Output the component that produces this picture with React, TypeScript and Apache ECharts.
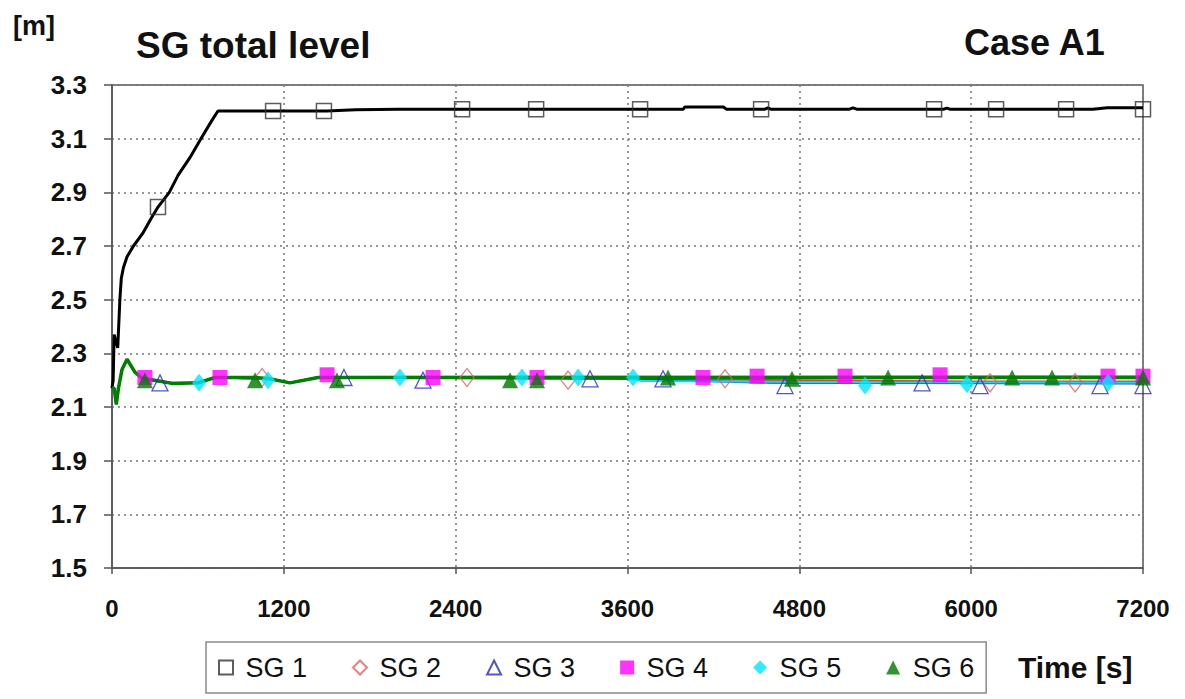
import React, { useEffect, useRef } from "react";
import * as echarts from "echarts";

// ---- data (time [s], level [m]) ----
const xTicks = [0, 1200, 2400, 3600, 4800, 6000, 7200];
const yTicks = [1.5, 1.7, 1.9, 2.1, 2.3, 2.5, 2.7, 2.9, 3.1, 3.3];

const seriesNames = ["SG 1", "SG 2", "SG 3", "SG 4", "SG 5", "SG 6"];

// line traces
const sg1Line: number[][] = [
  [0, 2.17], [8, 2.2], [15, 2.37], [25, 2.35], [40, 2.32], [55, 2.5], [65, 2.58], [80, 2.62],
  [105, 2.66], [150, 2.7], [218, 2.75], [270, 2.8], [321, 2.845], [400, 2.9], [462, 2.964],
  [545, 3.03], [628, 3.106], [700, 3.17], [740, 3.203], [1500, 3.203], [1700, 3.208],
  [2000, 3.21], [3990, 3.21], [4000, 3.218], [4270, 3.218], [4290, 3.21], [4560, 3.21],
  [4580, 3.215], [4600, 3.21], [5150, 3.21], [5175, 3.215], [5200, 3.21], [5810, 3.21],
  [5830, 3.214], [5850, 3.21], [6850, 3.21], [6950, 3.215], [7200, 3.215],
];
const sg2Line: number[][] = [
  [0, 2.17], [15, 2.17], [30, 2.11], [45, 2.17], [70, 2.24], [105, 2.275], [160, 2.23],
  [210, 2.205], [420, 2.188], [600, 2.19], [720, 2.21], [1100, 2.205], [1243, 2.19],
  [1440, 2.21], [3600, 2.205], [6000, 2.195], [7200, 2.195],
];
const sg3Line: number[][] = [
  [0, 2.17], [15, 2.17], [30, 2.11], [45, 2.17], [70, 2.24], [105, 2.275], [160, 2.23],
  [210, 2.205], [420, 2.188], [600, 2.19], [720, 2.21], [1100, 2.205], [1243, 2.19],
  [1440, 2.21], [3600, 2.205], [4600, 2.19], [7200, 2.188],
];
const sg4Line: number[][] = [
  [0, 2.17], [15, 2.17], [30, 2.11], [45, 2.17], [70, 2.24], [105, 2.278], [160, 2.23],
  [210, 2.21], [420, 2.19], [600, 2.19], [720, 2.21], [1100, 2.205], [1243, 2.19],
  [1440, 2.212], [7200, 2.214],
];
const sg5Line: number[][] = [
  [0, 2.17], [15, 2.17], [30, 2.11], [45, 2.17], [70, 2.24], [105, 2.275], [160, 2.23],
  [210, 2.205], [420, 2.188], [600, 2.19], [720, 2.21], [1100, 2.205], [1243, 2.19],
  [1440, 2.21], [3600, 2.208], [3700, 2.197], [5200, 2.192], [7200, 2.19],
];
const sg6Line: number[][] = [
  [0, 2.17], [15, 2.17], [30, 2.11], [45, 2.17], [70, 2.24], [105, 2.278], [160, 2.23],
  [210, 2.207], [420, 2.188], [600, 2.19], [720, 2.21], [1000, 2.21], [1100, 2.205],
  [1243, 2.19], [1440, 2.21], [7200, 2.21],
];

// marker points
const sg1Marks: number[][] = [
  [321, 2.845], [1125, 3.203], [1480, 3.203], [2445, 3.21], [2962, 3.21], [3688, 3.21],
  [4533, 3.21], [5741, 3.21], [6174, 3.21], [6663, 3.21], [7200, 3.21],
];
const sg2Marks: number[][] = [
  [1048, 2.21], [2479, 2.21], [3185, 2.2], [4281, 2.205], [6132, 2.19], [6726, 2.19],
];
const sg3Marks: number[][] = [
  [335, 2.19], [1620, 2.21], [2172, 2.2], [3338, 2.205], [3848, 2.205], [4700, 2.18],
  [5657, 2.19], [6062, 2.18], [6900, 2.18], [7200, 2.18],
];
const sg4Marks: number[][] = [
  [230, 2.21], [754, 2.21], [1502, 2.22], [2242, 2.21], [2968, 2.21], [4127, 2.21],
  [4505, 2.215], [5119, 2.215], [5783, 2.22], [6956, 2.215], [7200, 2.215],
];
const sg5Marks: number[][] = [
  [608, 2.19], [1090, 2.2], [2011, 2.21], [2863, 2.21], [3255, 2.21], [3639, 2.21],
  [5259, 2.18], [5971, 2.185], [6956, 2.19],
];
const sg6Marks: number[][] = [
  [230, 2.2], [999, 2.2], [1571, 2.2], [2780, 2.2], [2968, 2.2], [3883, 2.21],
  [4749, 2.205], [5420, 2.21], [6286, 2.21], [6565, 2.21], [7200, 2.21],
];

const FONT = "'Liberation Sans', Arial, sans-serif";

export default function App() {
  const ref = useRef<HTMLDivElement>(null);

  useEffect(() => {
    if (!ref.current) return;
    const chart = echarts.init(ref.current, null, { renderer: "svg" });

    const lines = [sg1Line, sg2Line, sg3Line, sg4Line, sg5Line, sg6Line];
    const marks = [sg1Marks, sg2Marks, sg3Marks, sg4Marks, sg5Marks, sg6Marks];
    const lineColors = ["#000000", "#e04040", "#3030c0", "#ff00ff", "#00e0f0", "#008000"];
    const lineWidths = [3, 2, 2, 2, 2, 3.5];
    const symbols = ["rect", "diamond", "triangle", "rect", "diamond", "triangle"];
    const sizes: any[] = [15, [14, 18], 16, 15, [14, 18], 16];
    const itemStyles: any[] = [
      { color: "rgba(0,0,0,0)", borderColor: "#333333", borderWidth: 1.5 },
      { color: "rgba(0,0,0,0)", borderColor: "#e06060", borderWidth: 1.3 },
      { color: "rgba(0,0,0,0)", borderColor: "#2828c8", borderWidth: 1.3 },
      { color: "#ff00ff", borderWidth: 0 },
      { color: "#00e5ff", borderWidth: 0 },
      { color: "#007800", borderWidth: 0 },
    ];

    const series: any[] = [];
    lines.forEach((d, i) => {
      series.push({
        name: seriesNames[i] + " line",
        type: "line",
        data: d,
        showSymbol: false,
        symbol: "none",
        lineStyle: { color: lineColors[i], width: lineWidths[i] },
        z: 2 + i,
        silent: true,
      });
    });
    marks.forEach((d, i) => {
      series.push({
        name: seriesNames[i],
        type: "scatter",
        data: d,
        symbol: symbols[i],
        symbolSize: sizes[i],
        itemStyle: itemStyles[i],
        z: 10 + i,
      });
    });

    chart.setOption({
      animation: false,
      backgroundColor: "#ffffff",
      grid: {
        left: 112,
        right: 42,
        top: 85,
        bottom: 131,
        show: true,
        borderColor: "#555",
        borderWidth: 1.5,
      },
      xAxis: {
        type: "value",
        min: xTicks[0],
        max: xTicks[xTicks.length - 1],
        interval: 1200,
        axisLine: { show: true, lineStyle: { color: "#555", width: 1.5 } },
        axisTick: { show: true, length: 6, lineStyle: { color: "#555", width: 1.5 } },
        axisLabel: {
          margin: 28,
          fontFamily: FONT,
          fontWeight: "bold",
          fontSize: 24,
          color: "#111",
          formatter: (v: number) => String(v),
        },
        splitLine: { show: true, lineStyle: { color: "#777", type: [2, 4], width: 1.5 } },
      },
      yAxis: {
        type: "value",
        min: yTicks[0],
        max: yTicks[yTicks.length - 1],
        interval: 0.2,
        axisLine: { show: true, lineStyle: { color: "#555", width: 1.5 } },
        axisTick: { show: true, length: 8, lineStyle: { color: "#555", width: 1.5 } },
        axisLabel: {
          margin: 25,
          fontFamily: FONT,
          fontWeight: "bold",
          fontSize: 26,
          color: "#111",
          formatter: (v: number) => v.toFixed(1),
        },
        splitLine: { show: true, lineStyle: { color: "#777", type: [2, 4], width: 1.5 } },
      },
      legend: {
        data: seriesNames.map((n, i) => ({ name: n, icon: symbols[i] })),
        left: 206,
        top: 642,
        orient: "horizontal",
        itemWidth: 14,
        itemHeight: 14,
        itemGap: 45,
        padding: [12, 12],
        borderColor: "#8a8a8a",
        borderWidth: 1.5,
        formatter: (n: string) => " " + n,
        textStyle: { fontFamily: FONT, fontSize: 27, color: "#111" },
        selectedMode: false,
      },
      graphic: [
        {
          type: "text",
          left: 13,
          top: 12,
          style: { text: "[m]", font: `bold 27px ${FONT}`, fill: "#111" },
        },
        {
          type: "text",
          x: 136,
          y: 45,
          style: {
            text: "SG total level",
            font: `bold 37px ${FONT}`,
            fill: "#111",
            textVerticalAlign: "middle",
          },
        },
        {
          type: "text",
          x: 964,
          y: 42,
          style: {
            text: "Case A1",
            font: `bold 36px ${FONT}`,
            fill: "#111",
            textVerticalAlign: "middle",
          },
        },
        {
          type: "text",
          x: 1018,
          y: 667,
          style: {
            text: "Time [s]",
            font: `bold 30px ${FONT}`,
            fill: "#111",
            textVerticalAlign: "middle",
          },
        },
      ],
      series,
    });

    return () => chart.dispose();
  }, []);

  return (
    <div
      ref={ref}
      style={{ position: "absolute", left: 0, top: 0, width: 1185, height: 699 }}
    />
  );
}
